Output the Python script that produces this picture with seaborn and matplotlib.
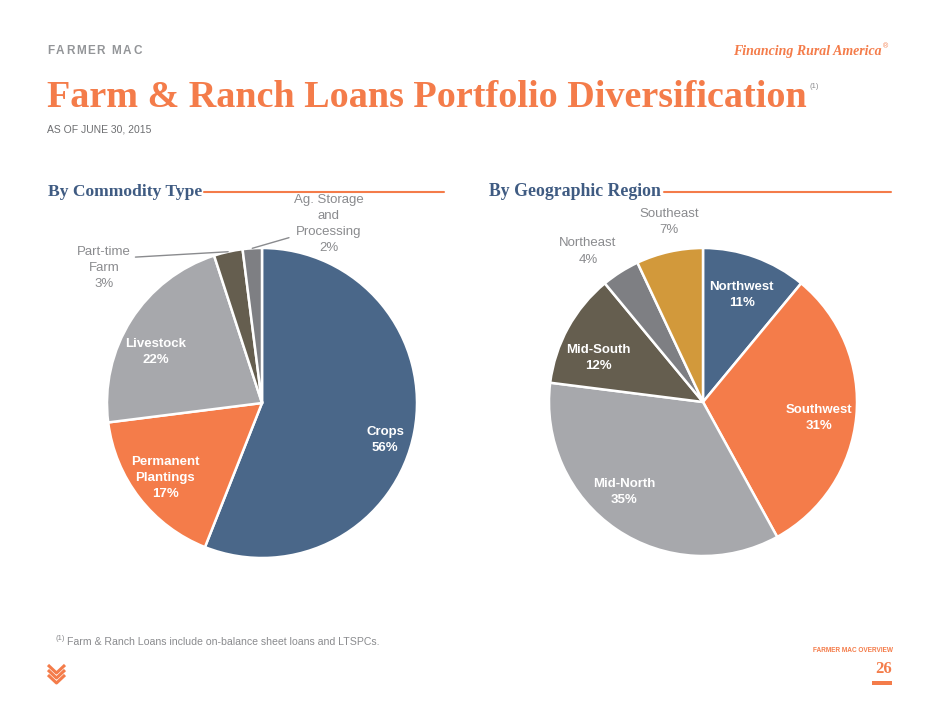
import matplotlib
matplotlib.use("Agg")
import matplotlib.pyplot as plt
import numpy as np
import seaborn as sns
from matplotlib.lines import Line2D
from matplotlib.patches import Rectangle

# data
commodity_labels = ["Crops", "Permanent\nPlantings", "Livestock", "Part-time\nFarm", "Ag. Storage\nand\nProcessing"]
commodity_values = [56, 17, 22, 3, 2]
region_labels = ["Northwest", "Southwest", "Mid-North", "Mid-South", "Northeast", "Southeast"]
region_values = [11, 31, 35, 12, 4, 7]

# styling
ORANGE = "#F47C4A"
BLUE_HEAD = "#3F5B82"
GRAY_TXT = "#8A8B8E"
commodity_colors = ["#4A6789", "#F47C4A", "#A7A8AC", "#655E4F", "#7E7F83"]
region_colors = ["#4A6789", "#F47C4A", "#A7A8AC", "#655E4F", "#7E7F83", "#D2993B"]

# label placement: (radius factor, angle offset from wedge middle), inside?, leader relpos
commodity_place = [(0.83, -6), (0.79, 0), (0.76, 7), (1.34, 37), (1.23, -24)]
commodity_inside = [True, True, True, False, False]
commodity_leader = [None, None, None, (1.0, 0.75), (0.0, 0.3)]
region_place = [(0.74, 0), (0.76, -2.5), (0.78, -7), (0.74, 6), (1.23, 5), (1.19, -2)]
region_inside = [True, True, True, True, False, False]
region_leader = [None] * 6

sns.set_theme(style="white")
plt.rcParams["font.family"] = ["Liberation Sans", "DejaVu Sans"]

W, H = 940, 705
fig = plt.figure(figsize=(W / 100, H / 100), dpi=100)
fig.patch.set_facecolor("white")
renderer = fig.canvas.get_renderer()


def fx(px):
    return px / W


def fy(py):
    return 1 - py / H


def fit_text(x, y, s, width, size=10, **kw):
    t = fig.text(fx(x), fy(y), s, fontsize=size, **kw)
    w = t.get_window_extent(renderer).width
    t.set_fontsize(size * width / w)
    return t


def spaced_text(x, y, s, size, track, **kw):
    for ch in s:
        t = fig.text(fx(x), fy(y), ch, fontsize=size, va="center", **kw)
        x += t.get_window_extent(renderer).width + track


# header
spaced_text(47, 51, "FARMER MAC", 8.5, 1.6, color="#939598", fontweight="bold")
fit_text(882, 52, "Financing Rural America", 148, 11, ha="right", va="center",
         family="Liberation Serif", style="italic", fontweight="bold", color=ORANGE)
fig.text(fx(883), fy(47), "®", fontsize=5, color=ORANGE, va="center")
fit_text(47, 107, "Farm & Ranch Loans Portfolio Diversification", 757, 30, ha="left",
         va="baseline", family="Liberation Serif", fontweight="bold", color=ORANGE)
fig.text(fx(810), fy(87), "(1)", fontsize=5.5, color=GRAY_TXT, va="center")
fit_text(47, 130, "AS OF JUNE 30, 2015", 104, 8, va="center", color="#6D6E71")

# section headings with rules
fit_text(48, 192, "By Commodity Type", 153, 13, va="center", family="Liberation Serif",
         fontweight="bold", color=BLUE_HEAD)
fig.add_artist(Line2D([fx(204), fx(444)], [fy(192), fy(192)], color=ORANGE, lw=1.5))
fit_text(489, 192, "By Geographic Region", 171, 13, va="center", family="Liberation Serif",
         fontweight="bold", color=BLUE_HEAD)
fig.add_artist(Line2D([fx(664), fx(891)], [fy(192), fy(192)], color=ORANGE, lw=1.5))


def draw_pie(cx, cy, r, values, labels, colors, place, inside, leaders):
    ax = fig.add_axes([fx(cx - r), fy(cy + r), 2 * r / W, 2 * r / H])
    wedges, _ = ax.pie(values, colors=colors, startangle=90, counterclock=False,
                       wedgeprops=dict(edgecolor="white", linewidth=1.8))
    ax.set_xlim(-1, 1)
    ax.set_ylim(-1, 1)
    ax.set_aspect("equal")
    ax.axis("off")
    for w, lab, v, (rf, off), ins, rel in zip(wedges, labels, values, place, inside, leaders):
        mid = (w.theta1 + w.theta2) / 2
        a = np.deg2rad(mid + off)
        pos = (rf * np.cos(a), rf * np.sin(a))
        txt = f"{lab}\n{v}%"
        kw = dict(ha="center", va="center", multialignment="center", fontsize=9.5,
                  linespacing=1.45)
        if ins:
            ax.text(*pos, txt, color="white", fontweight="bold", **kw)
        elif rel is None:
            ax.text(*pos, txt, color=GRAY_TXT, **kw)
        else:
            m = np.deg2rad(mid)
            ax.annotate(txt, xy=(np.cos(m), np.sin(m)), xytext=pos, color=GRAY_TXT,
                        annotation_clip=False,
                        arrowprops=dict(arrowstyle="-", color=GRAY_TXT, lw=1,
                                        relpos=rel, shrinkA=1, shrinkB=0), **kw)
    return ax


draw_pie(262, 403, 155, commodity_values, commodity_labels, commodity_colors,
         commodity_place, commodity_inside, commodity_leader)
draw_pie(703, 402, 154, region_values, region_labels, region_colors,
         region_place, region_inside, region_leader)

# footer
fig.text(fx(55), fy(639), "(1)", fontsize=5.5, color=GRAY_TXT, va="center")
fit_text(67, 642, "Farm & Ranch Loans include on-balance sheet loans and LTSPCs.", 313, 9,
         va="center", color=GRAY_TXT)
fit_text(893, 651, "FARMER MAC OVERVIEW", 81, 6, ha="right", va="center",
         fontweight="bold", color=ORANGE)
fig.text(fx(892), fy(669), "26", fontsize=12, ha="right", va="center",
         family="Liberation Serif", fontweight="bold", color=ORANGE)
fig.add_artist(Rectangle((fx(872), fy(685)), 20 / W, 4 / H, color=ORANGE, lw=0))

# logo: stacked orange chevrons
for k in range(3):
    off = k * 5
    fig.add_artist(Line2D([fx(48), fx(56.5), fx(65)],
                          [fy(665 + off), fy(673 + off), fy(665 + off)],
                          color=ORANGE, lw=2.2, solid_capstyle="butt"))

fig.savefig("out.png", dpi=100, facecolor="white")
